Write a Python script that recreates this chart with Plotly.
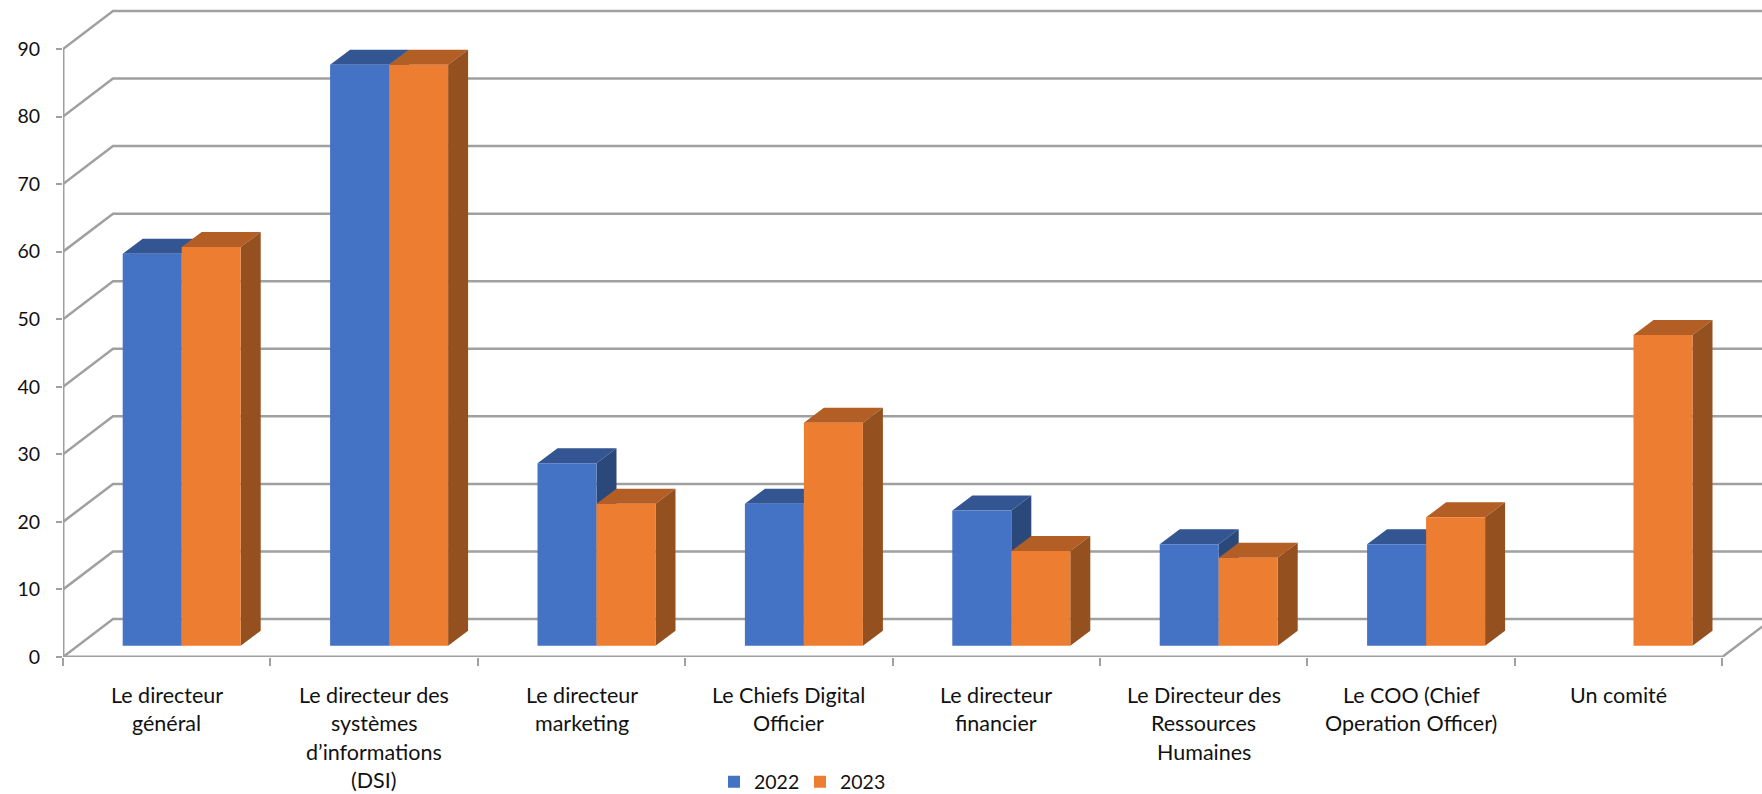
import plotly.graph_objects as go

categories = [
    "Le directeur\ngénéral",
    "Le directeur des\nsystèmes\nd’informations\n(DSI)",
    "Le directeur\nmarketing",
    "Le Chiefs Digital\nOfficier",
    "Le directeur\nfinancier",
    "Le Directeur des\nRessources\nHumaines",
    "Le COO (Chief\nOperation Officer)",
    "Un comité",
]
values_2022 = [58, 86, 27, 21, 20, 15, 15, None]
values_2023 = [59, 86, 21, 33, 14, 13, 19, 46]
y_ticks = list(range(0, 100, 10))

W, H = 1762, 794
LEFT, BOTTOM = 63, 137
CAT_PX = 207.4
UNIT_PX = 6.756
n = len(categories)

x_max = (W - LEFT) / CAT_PX
y_max = (H - BOTTOM) / UNIT_PX


def px_x(p):
    return p / CAT_PX


def px_y(p):
    return p / UNIT_PX


# oblique depth of the floor, and where the bars sit on it
floor_dx, floor_dy = px_x(50), px_y(38)
bar_dx, bar_dy = px_x(15), px_y(11.3)
side_dx, side_dy = px_x(20), px_y(15)
bar_w = px_x(59)

GRID = "#a0a0a0"
colors = {"2022": "#4472C4", "2023": "#ED7D31"}
top_colors = {"2022": "#335693", "2023": "#B25E25"}
side_colors = {"2022": "#2B487B", "2023": "#95501F"}

fig = go.Figure()

# back wall gridlines, the diagonals down to the y axis, and the floor's right edge
grid_x, grid_y = [n, n + floor_dx, None], [0, floor_dy, None]
for v in y_ticks:
    grid_x += [0, floor_dx, n + floor_dx, None]
    grid_y += [v, v + floor_dy, v + floor_dy, None]
fig.add_trace(go.Scatter(x=grid_x, y=grid_y, mode="lines", showlegend=False, hoverinfo="skip",
                         line=dict(color=GRID, width=2.5)))

# front edges of the box
fig.add_trace(go.Scatter(x=[0, 0, None, 0, n], y=[y_ticks[-1], 0, None, 0, 0],
                         mode="lines", showlegend=False, hoverinfo="skip", cliponaxis=False,
                         line=dict(color=GRID, width=3)))

# top and side faces of the bars, the fronts are go.Bar on the overlay axes
for name, vals, shift in [("2022", values_2022, -bar_w), ("2023", values_2023, 0)]:
    top_x, top_y, side_x, side_y = [], [], [], []
    for i, v in enumerate(vals):
        if v is None:
            continue
        x0 = i + 0.5 + bar_dx + shift
        x1 = x0 + bar_w
        y0 = bar_dy
        y1 = bar_dy + v
        top_x += [x0, x1, x1 + side_dx, x0 + side_dx, x0, None]
        top_y += [y1, y1, y1 + side_dy, y1 + side_dy, y1, None]
        side_x += [x1, x1 + side_dx, x1 + side_dx, x1, x1, None]
        side_y += [y0, y0 + side_dy, y1 + side_dy, y1, y0, None]
    fig.add_trace(go.Scatter(x=top_x, y=top_y, mode="lines", fill="toself", fillcolor=top_colors[name],
                             line=dict(width=0), showlegend=False, hoverinfo="skip"))
    fig.add_trace(go.Scatter(x=side_x, y=side_y, mode="lines", fill="toself", fillcolor=side_colors[name],
                             line=dict(width=0), showlegend=False, hoverinfo="skip"))

front_x = [i + 0.5 + bar_dx for i in range(n)]
for name, vals in [("2022", values_2022), ("2023", values_2023)]:
    fig.add_trace(go.Bar(x=front_x, y=vals, base=bar_dy, name=name, xaxis="x2", yaxis="y2",
                         marker=dict(color=colors[name], line=dict(width=0))))

# category labels: one annotation per line, the chart's line spacing is wider than plotly's
annotations = []
for i, label in enumerate(categories):
    for k, line in enumerate(label.split("\n")):
        annotations.append(dict(x=i + 0.5, y=0, xref="x", yref="paper", yanchor="middle", yshift=-38 - 28.3 * k,
                                text=line, showarrow=False, font=dict(family="Lato", size=21.5, color="#111111")))

fig.update_layout(
    width=W, height=H,
    margin=dict(l=LEFT, r=0, t=0, b=BOTTOM, pad=0),
    paper_bgcolor="white", plot_bgcolor="white",
    font=dict(family="Lato", size=19.5, color="#111111"),
    barmode="group", bargap=1 - 2 * bar_w, bargroupgap=0,
    annotations=annotations,
    xaxis=dict(range=[0, x_max], tickvals=list(range(n + 1)), showticklabels=False, ticks="outside",
               ticklen=8, tickwidth=2, tickcolor=GRID, showgrid=False, zeroline=False, showline=False),
    yaxis=dict(range=[0, y_max], tickvals=y_ticks, ticks="outside", ticklen=6, tickwidth=2, tickcolor=GRID,
               ticklabelstandoff=12, showgrid=False, zeroline=False, showline=False),
    xaxis2=dict(range=[0, x_max], overlaying="x", visible=False),
    yaxis2=dict(range=[0, y_max], overlaying="y", visible=False),
    legend=dict(orientation="h", xref="container", yref="container", x=714 / W, xanchor="left",
                y=(H - 782) / H, yanchor="middle", font=dict(family="Lato", size=19.5), itemwidth=30,
                entrywidth=41, bgcolor="rgba(0,0,0,0)"),
)

fig.write_html("out.html", config={"displayModeBar": False}, post_script="document.body.style.margin='0';")
